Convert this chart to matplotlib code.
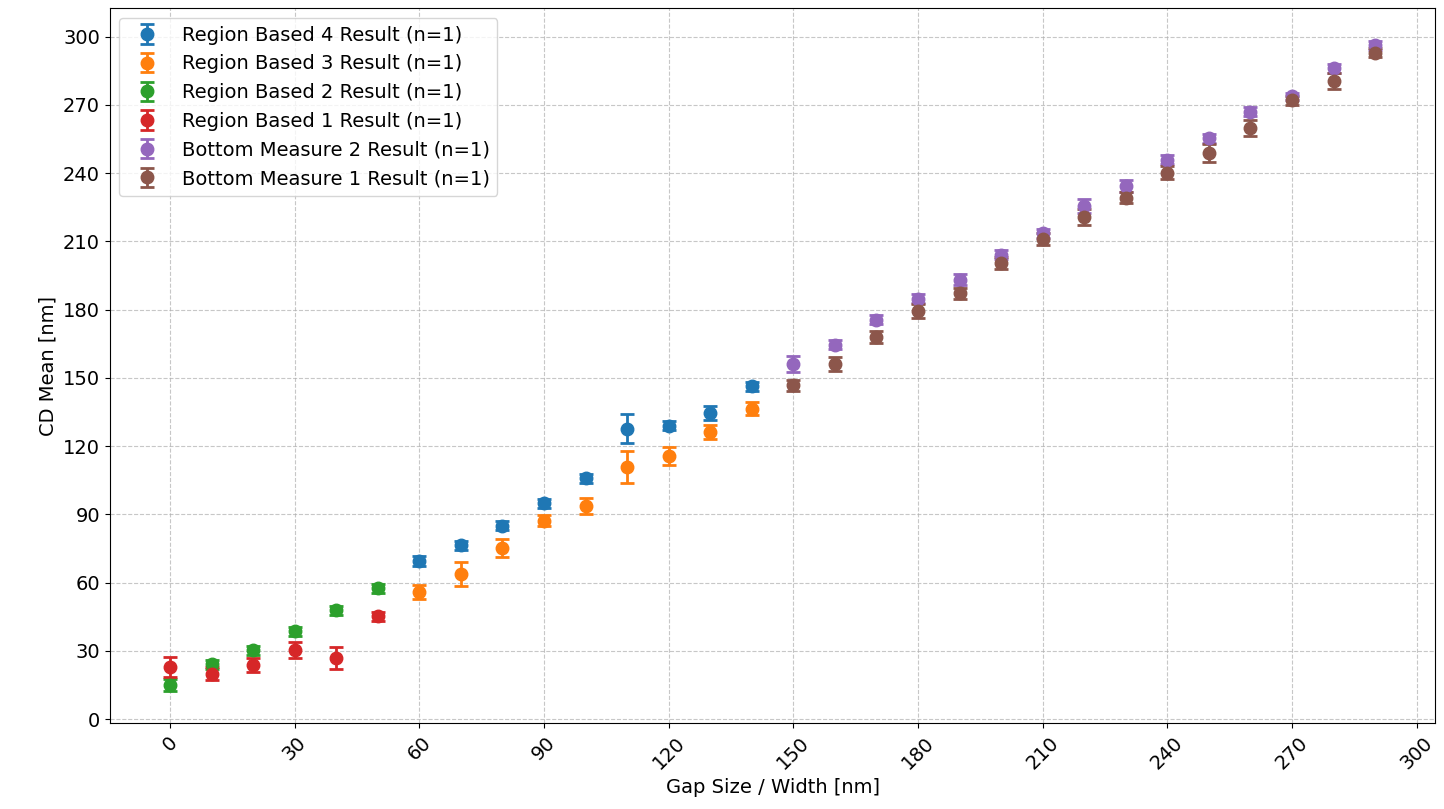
import numpy as np
import matplotlib
matplotlib.use('Agg')
import matplotlib.pyplot as plt

# gap sizes per series
x_rb4=[60,70,80,90,100,110,120,130,140]
x_rb3=[60,70,80,90,100,110,120,130,140]
x_rb2=[0,10,20,30,40,50]
x_rb1=[0,10,20,30,40,50]
x_bm=[150,160,170,180,190,200,210,220,230,240,250,260,270,280,290]

# CD means [nm]
y_rb4=[69.5,76.5,85.0,94.8,105.8,127.7,128.9,134.6,146.3]
y_rb3=[55.9,63.8,75.2,87.2,93.7,110.7,115.8,126.3,136.5]
y_rb2=[15.0,24.1,30.2,38.7,47.9,57.5]
y_rb1=[23.0,20.0,23.9,30.4,27.0,45.3]
y_bm2=[155.9,164.5,175.6,184.7,193.1,204.2,213.6,225.6,234.3,245.8,255.3,267.0,273.8,286.0,296.2]
y_bm1=[146.7,156.2,167.9,179.3,187.2,200.5,211.0,220.8,229.2,240.2,248.9,259.9,272.0,280.3,292.9]

# error (std) [nm]
e_rb4=[2,2,2,2,2,6.3,2,3,2]
e_rb3=[3,5.2,4,2.5,3.5,7,4,3,3]
e_rb2=[2.5,2,2,2,2,2]
e_rb1=[4.3,3,3,3.5,4.8,2]
e_bm2=[3.5,2,2,2,2.5,2,2,3,2.5,2,2,2,1.5,2,2]
e_bm1=[2.5,3,2.5,3,2.5,2.5,2.5,3.5,2.5,3,4,3.5,2,3.5,2]

series=[
    (x_rb4,y_rb4,e_rb4,'Region Based 4 Result (n=1)'),
    (x_rb3,y_rb3,e_rb3,'Region Based 3 Result (n=1)'),
    (x_rb2,y_rb2,e_rb2,'Region Based 2 Result (n=1)'),
    (x_rb1,y_rb1,e_rb1,'Region Based 1 Result (n=1)'),
    (x_bm,y_bm2,e_bm2,'Bottom Measure 2 Result (n=1)'),
    (x_bm,y_bm1,e_bm1,'Bottom Measure 1 Result (n=1)'),
]

fs=14
fig,ax=plt.subplots(figsize=(14.44,8.09),dpi=100)
fig.subplots_adjust(left=0.076,right=0.994,top=0.99,bottom=0.106)

for i,(xx,yy,ee,lb) in enumerate(series):
    ax.errorbar(xx,yy,yerr=ee,fmt='o',color='C%d'%i,markersize=9,
                capsize=5,elinewidth=2,capthick=2,label=lb)

ax.set_xticks(np.arange(0,301,30))
ax.set_yticks(np.arange(0,301,30))
ax.tick_params(axis='x',labelrotation=45,labelsize=fs)
ax.tick_params(axis='y',labelsize=fs)
ax.grid(True,linestyle='--',alpha=0.7)
ax.set_xlabel('Gap Size / Width [nm]',fontsize=fs)
ax.set_ylabel('CD Mean [nm]',fontsize=fs)
ax.legend(loc='upper left',fontsize=fs)

fig.savefig('out.png',dpi=100)
